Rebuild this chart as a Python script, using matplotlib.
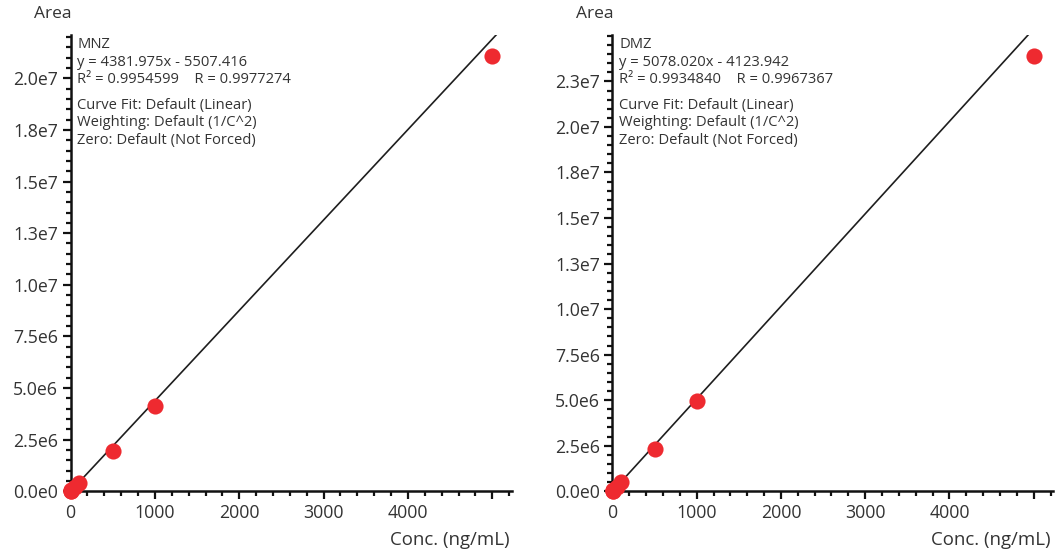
import matplotlib.pyplot as plt
from matplotlib.ticker import MultipleLocator

# Punti di calibrazione (concentrazione in ng/mL)
conc = [1, 5, 10, 50, 100, 500, 1000, 5000]
area_mnz = [4.5e3, 2.2e4, 4.4e4, 2.1e5, 4.0e5, 1.95e6, 4.15e6, 2.11e7]
area_dmz = [5.0e3, 2.5e4, 5.0e4, 2.5e5, 5.1e5, 2.30e6, 4.95e6, 2.39e7]

# Parametri della retta di regressione
slope_mnz, intercept_mnz = 4381.975, -5507.416
slope_dmz, intercept_dmz = 5078.020, -4123.942

x_ticks = [0, 1000, 2000, 3000, 4000, 5000]
x_labels = ['0', '1000', '2000', '3000', '4000', '']

y_ticks_mnz = [0, 2.5e6, 5e6, 7.5e6, 1e7, 1.25e7, 1.5e7, 1.75e7, 2e7]
y_labels_mnz = ['0.0e0', '2.5e6', '5.0e6', '7.5e6', '1.0e7', '1.3e7', '1.5e7', '1.8e7', '2.0e7']
y_ticks_dmz = [0, 2.5e6, 5e6, 7.5e6, 1e7, 1.25e7, 1.5e7, 1.75e7, 2e7, 2.25e7]
y_labels_dmz = ['0.0e0', '2.5e6', '5.0e6', '7.5e6', '1.0e7', '1.3e7', '1.5e7', '1.8e7', '2.0e7', '2.3e7']

info_mnz = ['MNZ', 'y = 4381.975x - 5507.416', 'R² = 0.9954599    R = 0.9977274']
info_dmz = ['DMZ', 'y = 5078.020x - 4123.942', 'R² = 0.9934840    R = 0.9967367']
fit_info = ['Curve Fit: Default (Linear)', 'Weighting: Default (1/C^2)', 'Zero: Default (Not Forced)']

X_MAX = 5230
RED = '#ee2a30'
FONT = 'Open Sans'


# Disegno di un pannello di calibrazione
def draw_panel(fig, rect, x, y, slope, intercept, ymax, yticks, ylabels, info):
    ax = fig.add_axes(rect)
    ax.set_xlim(0, X_MAX)
    ax.set_ylim(0, ymax)

    xs = [0, X_MAX]
    ax.plot(xs, [slope * v + intercept for v in xs], color='#1e1e1e', lw=1.2, zorder=2)
    ax.scatter(x, y, s=135, color=RED, zorder=3, clip_on=False, linewidths=0)

    for side in ['top', 'right']:
        ax.spines[side].set_visible(False)
    for side in ['left', 'bottom']:
        ax.spines[side].set_linewidth(1.8)
        ax.spines[side].set_color('#111111')

    ax.set_xticks(x_ticks)
    ax.set_xticklabels(x_labels)
    ax.set_yticks(yticks)
    ax.set_yticklabels(ylabels)
    ax.xaxis.set_minor_locator(MultipleLocator(200))
    ax.yaxis.set_minor_locator(MultipleLocator(5e5))
    ax.tick_params(which='major', length=6, width=1.6, color='#111111', labelsize=12.8,
                   labelcolor='#333333', pad=3)
    ax.tick_params(which='minor', length=3.5, width=1.6, color='#111111')
    for lab in ax.get_xticklabels() + ax.get_yticklabels():
        lab.set_family(FONT)

    lines = info + [''] + fit_info
    ty = 0.995
    for txt in lines:
        if txt == '':
            ty -= 0.02
            continue
        ax.text(0.015, ty, txt, transform=ax.transAxes, ha='left', va='top',
                fontsize=10.6, family=FONT, color='#333333')
        ty -= 0.0378

    bbox = ax.get_position()
    fig.text(bbox.x0 - 0.035, 0.975, 'Area', ha='left', va='center', fontsize=12.5,
             family=FONT, color='#333333')
    fig.text(bbox.x1 - 0.002, 0.02, 'Conc. (ng/mL)', ha='right', va='center', fontsize=13.4,
             family=FONT, color='#333333')
    return ax


def main():
    fig = plt.figure(figsize=(10.56, 5.51), dpi=100)

    draw_panel(fig, [0.0668, 0.1085, 0.4178, 0.828], conc, area_mnz,
               slope_mnz, intercept_mnz, 2.21e7, y_ticks_mnz, y_labels_mnz, info_mnz)
    draw_panel(fig, [0.58, 0.1085, 0.4172, 0.828], conc, area_dmz,
               slope_dmz, intercept_dmz, 2.505e7, y_ticks_dmz, y_labels_dmz, info_dmz)

    plt.savefig('out.png', dpi=100)
    plt.clf()


if __name__ == '__main__':
    main()
